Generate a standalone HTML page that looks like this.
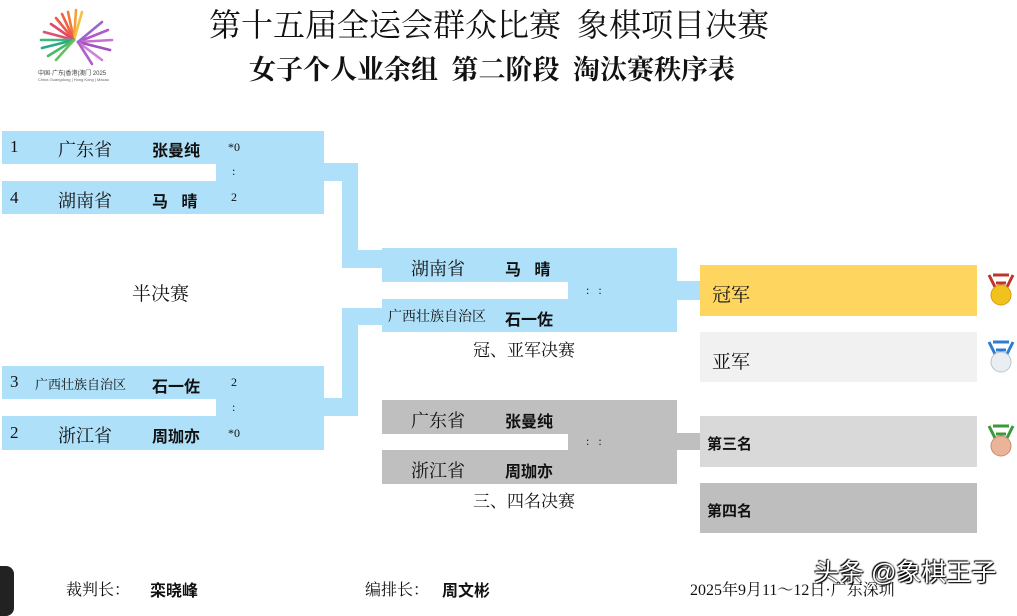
<!DOCTYPE html>
<html><head><meta charset="utf-8"><style>
body{margin:0;width:1017px;height:601px;background:#fff;position:relative;overflow:hidden;font-family:"Liberation Serif","Noto Serif CJK SC",serif;}
.a{position:absolute;}
.b{position:absolute;background:#aee0f9;}
.g{position:absolute;background:#bfbfbf;}
.t{position:absolute;white-space:nowrap;color:#111;}
.s{font-family:"Liberation Serif","Noto Serif CJK SC",serif;}
.k{font-family:"Liberation Sans","Noto Sans CJK SC",sans-serif;font-weight:bold;}
</style></head><body>
<!-- logo -->
<svg class="a" style="left:36px;top:6px" width="82" height="76" viewBox="0 0 82 76">
<g stroke-width="2.6" stroke-linecap="round">
<line x1="38" y1="34" x2="32" y2="6" stroke="#f07a3c"/><line x1="38" y1="34" x2="40" y2="4" stroke="#f4a03a"/>
<line x1="38" y1="34" x2="26" y2="8" stroke="#f06040"/><line x1="38" y1="34" x2="46" y2="6" stroke="#f6c040"/>
<line x1="38" y1="34" x2="20" y2="12" stroke="#ef5a4a"/><line x1="38" y1="34" x2="15" y2="18" stroke="#e04a6a"/>
<line x1="38" y1="34" x2="8" y2="26" stroke="#e05070"/><line x1="38" y1="34" x2="5" y2="34" stroke="#3cb878"/>
<line x1="38" y1="34" x2="6" y2="42" stroke="#2aa88a"/><line x1="38" y1="34" x2="12" y2="50" stroke="#44bb66"/>
<line x1="38" y1="34" x2="20" y2="54" stroke="#66c060"/>
<line x1="42" y1="36" x2="72" y2="24" stroke="#b45ac8"/><line x1="42" y1="36" x2="76" y2="34" stroke="#c870d0"/>
<line x1="42" y1="36" x2="74" y2="44" stroke="#a050c0"/><line x1="42" y1="36" x2="66" y2="54" stroke="#d080d8"/>
<line x1="42" y1="36" x2="56" y2="58" stroke="#b060c8"/><line x1="42" y1="36" x2="66" y2="16" stroke="#9a66cc"/>
</g>
<text x="2" y="69" font-size="6" fill="#444" font-family="Liberation Sans,Noto Sans CJK SC,sans-serif">中国·广东|香港|澳门 2025</text>
<text x="2" y="75" font-size="4" fill="#666" font-family="Liberation Sans,sans-serif">China Guangdong | Hong Kong | Macao</text>
</svg>
<div class="t s" style="left:209px;top:0px;font-size:32px;">第十五届全运会群众比赛&nbsp;&nbsp;象棋项目决赛</div>
<div class="t s" style="left:249px;top:48px;font-size:27px;font-weight:bold;">女子个人业余组&nbsp;&nbsp;第二阶段&nbsp;&nbsp;淘汰赛秩序表</div>

<!-- semifinal top -->
<div class="b" style="left:2px;top:131px;width:322px;height:33px"></div>
<div class="b" style="left:216px;top:163px;width:142px;height:18px"></div>
<div class="b" style="left:2px;top:181px;width:322px;height:33px"></div>
<div class="b" style="left:342px;top:163px;width:16px;height:105px"></div>
<div class="b" style="left:342px;top:250px;width:40px;height:18px"></div>
<div class="t s" style="left:10px;top:137px;font-size:17px">1</div>
<div class="t s" style="left:58px;top:136px;font-size:18px">广东省</div>
<div class="t k" style="left:152px;top:137px;font-size:16px">张曼纯</div>
<div class="t s" style="left:228px;top:140px;font-size:12px">*0</div>
<div class="t s" style="left:232px;top:164px;font-size:12px">:</div>
<div class="t s" style="left:10px;top:188px;font-size:17px">4</div>
<div class="t s" style="left:58px;top:187px;font-size:18px">湖南省</div>
<div class="t k" style="left:152px;top:188px;font-size:16px">马&nbsp;&nbsp;&nbsp;晴</div>
<div class="t s" style="left:231px;top:190px;font-size:12px">2</div>

<div class="t s" style="left:132px;top:279px;font-size:19px">半决赛</div>

<!-- semifinal bottom -->
<div class="b" style="left:2px;top:366px;width:322px;height:33px"></div>
<div class="b" style="left:216px;top:398px;width:142px;height:18px"></div>
<div class="b" style="left:2px;top:416px;width:322px;height:34px"></div>
<div class="b" style="left:342px;top:308px;width:16px;height:108px"></div>
<div class="b" style="left:342px;top:308px;width:40px;height:17px"></div>
<div class="t s" style="left:10px;top:372px;font-size:17px">3</div>
<div class="t s" style="left:35px;top:374px;font-size:13px">广西壮族自治区</div>
<div class="t k" style="left:152px;top:373px;font-size:16px">石一佐</div>
<div class="t s" style="left:231px;top:375px;font-size:12px">2</div>
<div class="t s" style="left:232px;top:400px;font-size:12px">:</div>
<div class="t s" style="left:10px;top:423px;font-size:17px">2</div>
<div class="t s" style="left:58px;top:422px;font-size:18px">浙江省</div>
<div class="t k" style="left:152px;top:423px;font-size:16px">周珈亦</div>
<div class="t s" style="left:228px;top:426px;font-size:12px">*0</div>

<!-- final -->
<div class="b" style="left:382px;top:248px;width:295px;height:34px"></div>
<div class="b" style="left:568px;top:281px;width:109px;height:19px"></div>
<div class="b" style="left:382px;top:299px;width:295px;height:33px"></div>
<div class="b" style="left:677px;top:281px;width:24px;height:19px"></div>
<div class="t s" style="left:411px;top:255px;font-size:18px">湖南省</div>
<div class="t k" style="left:505px;top:256px;font-size:16px">马&nbsp;&nbsp;&nbsp;晴</div>
<div class="t s" style="left:586px;top:283px;font-size:12px">:&nbsp;&nbsp;&nbsp;:</div>
<div class="t s" style="left:388px;top:306px;font-size:14px">广西壮族自治区</div>
<div class="t k" style="left:505px;top:306px;font-size:16px">石一佐</div>
<div class="t s" style="left:473px;top:336px;font-size:17px">冠、亚军决赛</div>

<!-- 3rd place -->
<div class="g" style="left:382px;top:400px;width:295px;height:34px"></div>
<div class="g" style="left:568px;top:433px;width:109px;height:18px"></div>
<div class="g" style="left:382px;top:450px;width:295px;height:34px"></div>
<div class="g" style="left:677px;top:433px;width:24px;height:17px"></div>
<div class="t s" style="left:411px;top:407px;font-size:18px">广东省</div>
<div class="t k" style="left:505px;top:408px;font-size:16px">张曼纯</div>
<div class="t s" style="left:586px;top:434px;font-size:12px">:&nbsp;&nbsp;&nbsp;:</div>
<div class="t s" style="left:411px;top:457px;font-size:18px">浙江省</div>
<div class="t k" style="left:505px;top:458px;font-size:16px">周珈亦</div>
<div class="t s" style="left:473px;top:487px;font-size:17px">三、四名决赛</div>

<!-- results -->
<div class="a" style="left:700px;top:265px;width:277px;height:51px;background:#fdd55f"></div>
<div class="t s" style="left:712px;top:280px;font-size:19px">冠军</div>
<div class="a" style="left:700px;top:332px;width:277px;height:50px;background:#f1f1f1"></div>
<div class="t s" style="left:712px;top:347px;font-size:19px">亚军</div>
<div class="a" style="left:700px;top:416px;width:277px;height:51px;background:#d9d9d9"></div>
<div class="t k" style="left:707px;top:433px;font-size:15px">第三名</div>
<div class="a" style="left:700px;top:483px;width:277px;height:50px;background:#bebebe"></div>
<div class="t k" style="left:707px;top:500px;font-size:15px">第四名</div>

<!-- medals -->
<svg class="a" style="left:985px;top:273px" width="32" height="36"><path d="M4 2 L10 14 M28 2 L22 14 M8 2 L24 2 M11 10 L21 10" stroke="#c0352a" stroke-width="3" fill="none"/><circle cx="16" cy="22" r="10" fill="#f2c21c" stroke="#d89a10"/></svg>
<svg class="a" style="left:985px;top:340px" width="32" height="36"><path d="M4 2 L10 14 M28 2 L22 14 M8 2 L24 2 M11 10 L21 10" stroke="#2e7dd0" stroke-width="3" fill="none"/><circle cx="16" cy="22" r="10" fill="#e8eef2" stroke="#b8c4cc"/></svg>
<svg class="a" style="left:985px;top:424px" width="32" height="36"><path d="M4 2 L10 14 M28 2 L22 14 M8 2 L24 2 M11 10 L21 10" stroke="#3a9a3a" stroke-width="3" fill="none"/><circle cx="16" cy="22" r="10" fill="#eab498" stroke="#c88a70"/></svg>

<!-- footer -->
<div class="a" style="left:-10px;top:566px;width:24px;height:50px;background:#222;border-radius:8px"></div>
<div class="t s" style="left:66px;top:577px;font-size:16px">裁判长：</div>
<div class="t k" style="left:150px;top:577px;font-size:16px">栾晓峰</div>
<div class="t s" style="left:365px;top:577px;font-size:16px">编排长：</div>
<div class="t k" style="left:442px;top:577px;font-size:16px">周文彬</div>
<div class="t s" style="left:690px;top:577px;font-size:16px">2025年9月11～12日·广东深圳</div>
<div class="t" style="left:814px;top:553px;font-size:25px;color:#fff;font-family:'Liberation Sans','Noto Sans CJK SC',sans-serif;text-shadow:0 0 2px #000,1px 1px 1px #000,-1px -1px 1px #000">头条 @象棋王子</div>
</body></html>
